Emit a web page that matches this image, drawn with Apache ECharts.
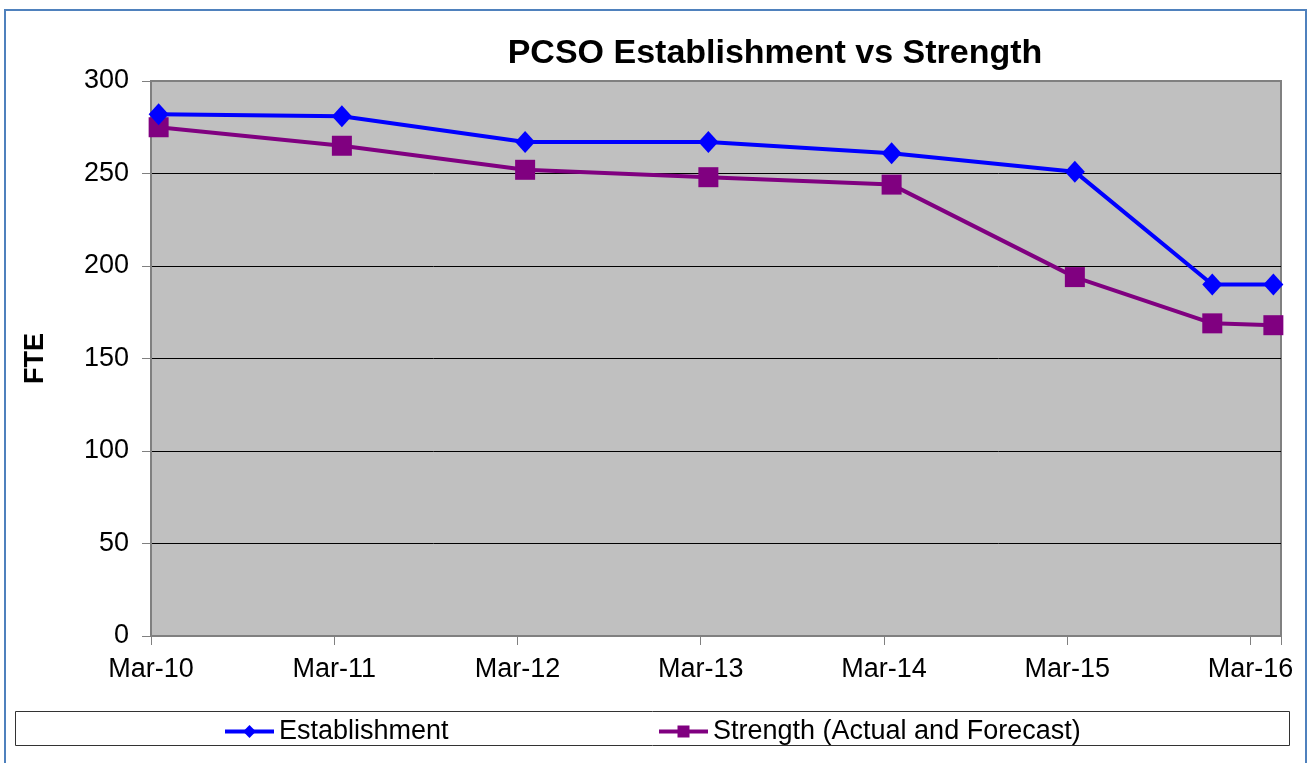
<!DOCTYPE html>
<html>
<head>
<meta charset="utf-8">
<script src="https://cdn.jsdelivr.net/npm/echarts@6/dist/echarts.min.js"></script>
<style>
html,body{margin:0;padding:0;background:#fff;}
#chart{width:1312px;height:763px;}
</style>
</head>
<body>
<div id="chart"></div>
<script>
// ---- data ----
var dateLabels = ['Mar-10','Mar-11','Mar-12','Mar-13','Mar-14','Mar-15','Dec-15','Apr-16'];
var establishment = [282, 281, 267, 267, 261, 251, 190, 190];
var strength = [275, 265, 252, 248, 244, 194, 169, 168];
var yTicks = [0, 50, 100, 150, 200, 250, 300];
var xTickLabels = ['Mar-10','Mar-11','Mar-12','Mar-13','Mar-14','Mar-15','Mar-16'];

var MONTHS = {Jan:0,Feb:1,Mar:2,Apr:3,May:4,Jun:5,Jul:6,Aug:7,Sep:8,Oct:9,Nov:10,Dec:11};
// month index relative to Mar-10; each point sits in the middle of its month
function monthPos(lbl){
  var p = lbl.split('-');
  var y = 2000 + parseInt(p[1],10);
  return (y - 2010) * 12 + MONTHS[p[0]] - 2 + 0.5;
}
var estData = dateLabels.map(function(d,i){ return [monthPos(d), establishment[i]]; });
var strData = dateLabels.map(function(d,i){ return [monthPos(d), strength[i]]; });

var FONT = "'Liberation Sans', Arial, sans-serif";
var chart = echarts.init(document.getElementById('chart'), null, {renderer:'canvas'});
chart.setOption({
  animation:false,
  backgroundColor:'#ffffff',
  title:{
    text:'PCSO Establishment vs Strength',
    left:770, textAlign:'center', top:32,
    textStyle:{fontFamily:FONT, fontWeight:'bold', fontSize:34, color:'#000'}
  },
  graphic:[
    {type:'rect', shape:{x:5, y:10, width:1301, height:770}, style:{fill:'none', stroke:'#4f81bd', lineWidth:2}, z:-1},
    {type:'rect', shape:{x:15.5, y:711.5, width:1274, height:34}, style:{fill:'#fff', stroke:'#333', lineWidth:1}, z:-1}
  ],
  legend:[
    {data:[{name:'Establishment', itemStyle:{color:'#0000ff'}, lineStyle:{color:'#0000ff', width:4}}],
     left:218, top:713, itemWidth:49, itemHeight:16, itemGap:6,
     textStyle:{fontFamily:FONT, fontSize:27, color:'#000'}},
    {data:[{name:'Strength (Actual and Forecast)', itemStyle:{color:'#800080'}, lineStyle:{color:'#800080', width:4}}],
     left:652, top:713, itemWidth:49, itemHeight:15, itemGap:6,
     textStyle:{fontFamily:FONT, fontSize:27, color:'#000'}}
  ],
  grid:{left:151, right:31, top:81, bottom:127, show:true, backgroundColor:'#c0c0c0', borderColor:'#808080', borderWidth:2},
  xAxis:{
    type:'value', min:0, max:74, interval:12,
    axisLine:{show:true, lineStyle:{color:'#808080', width:2}},
    axisTick:{show:true, length:9, lineStyle:{color:'#808080', width:1}},
    splitLine:{show:false},
    axisLabel:{
      margin:20, fontFamily:FONT, fontSize:27, color:'#000',
      formatter:function(v){ var i = Math.round(v/12); return (v % 12 === 0 && xTickLabels[i]) ? xTickLabels[i] : ''; }
    }
  },
  yAxis:{
    type:'value', min:yTicks[0], max:yTicks[yTicks.length-1], interval:yTicks[1]-yTicks[0],
    name:'FTE', nameLocation:'middle', nameGap:102,
    nameTextStyle:{fontFamily:FONT, fontWeight:'bold', fontSize:27, color:'#000'},
    axisLine:{show:true, lineStyle:{color:'#808080', width:2}},
    axisTick:{show:true, length:9, lineStyle:{color:'#808080', width:1}},
    splitLine:{show:true, lineStyle:{color:['#808080','#000','#000','#000','#000','#000','#808080'], width:1}},
    axisLabel:{margin:22, fontFamily:FONT, fontSize:27, color:'#000'}
  },
  series:[
    {name:'Establishment', type:'line', data:estData, symbol:'diamond', symbolSize:[20,22],
     lineStyle:{color:'#0000ff', width:4}, itemStyle:{color:'#0000ff'}, z:3},
    {name:'Strength (Actual and Forecast)', type:'line', data:strData, symbol:'rect', symbolSize:20,
     lineStyle:{color:'#800080', width:4}, itemStyle:{color:'#800080'}, z:2}
  ]
});
</script>
</body>
</html>
